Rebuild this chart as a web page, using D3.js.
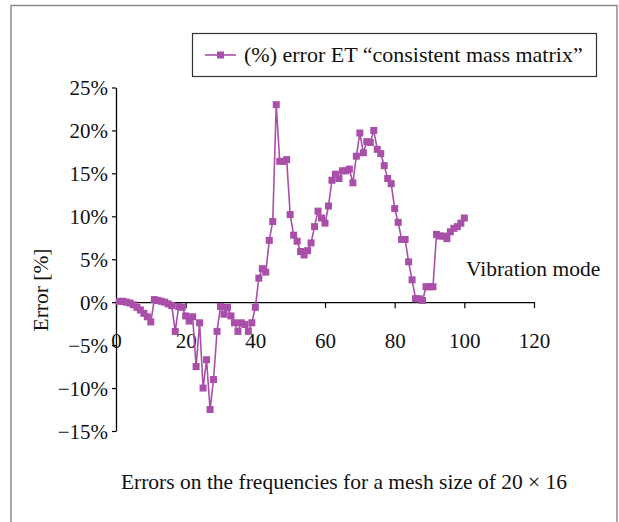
<!DOCTYPE html>
<html>
<head>
<meta charset="utf-8">
<script src="https://cdn.jsdelivr.net/npm/d3@7"></script>
<style>
  html, body { margin: 0; padding: 0; background: #fff; }
  svg { display: block; font-family: "Liberation Serif", "Times New Roman", serif; }
</style>
</head>
<body>
<div id="chart"></div>
<script>
// Errors (%) per vibration mode 1..100
const MODES = d3.range(1, 101);
const ERRORS = [
  0.1, 0.1, 0.0, -0.1, -0.3, -0.6, -0.9, -1.3, -1.7, -2.3,
  0.3, 0.2, 0.1, 0.0, -0.2, -0.4, -3.4, -0.5, -0.6, -1.6,
  -2.2, -1.7, -7.5, -2.4, -10.0, -6.7, -12.5, -9.0, -3.4, -0.5,
  -1.4, -0.6, -1.6, -2.4, -3.4, -2.4, -2.6, -3.4, -2.4, -0.6,
  2.8, 3.9, 3.5, 7.2, 9.4, 23.0, 16.4, 16.4, 16.6, 10.2,
  7.8, 7.1, 5.9, 5.5, 6.0, 6.9, 8.8, 10.6, 9.8, 9.2,
  11.2, 14.2, 14.9, 14.4, 15.3, 15.3, 15.5, 13.9, 17.0, 19.7,
  17.4, 18.7, 18.6, 20.0, 17.8, 17.3, 15.9, 14.4, 13.8, 10.9,
  9.3, 7.3, 7.3, 4.7, 2.6, 0.4, 0.4, 0.2, 1.8, 1.8,
  1.8, 7.9, 7.7, 7.7, 7.4, 8.2, 8.6, 8.8, 9.2, 9.8
];
const X_TICKS = [0, 20, 40, 60, 80, 100, 120];
const Y_TICKS = [-15, -10, -5, 0, 5, 10, 15, 20, 25];

const SERIES_LABEL = "(%) error ET \u201cconsistent mass matrix\u201d";
const X_LABEL = "Vibration mode";
const Y_LABEL = "Error [%]";
const CAPTION = "Errors on the frequencies for a mesh size of 20 \u00d7 16";

const W = 619, H = 522;
const COLOR = "#a94fa9";
const TEXT_SIZE = 21.5;
const TICK_SIZE = 21;

const svg = d3.select("#chart").append("svg")
  .attr("width", W)
  .attr("height", H);

// outer frame (bottom edge is cut off in the reference)
svg.append("path")
  .attr("d", `M11,${H} V5.5 H617 V${H}`)
  .attr("fill", "none")
  .attr("stroke", "#8a8a8a")
  .attr("stroke-width", 1.5);

const x = d3.scaleLinear().domain([0, 120]).range([116, 534]);
const y = d3.scaleLinear().domain([-15, 25]).range([431, 87.5]);

const fmtPct = d => (d < 0 ? "\u2212" + Math.abs(d) : d) + "%";

// y axis
const yAxis = svg.append("g")
  .attr("transform", `translate(${x(0)},0)`)
  .call(d3.axisLeft(y).tickValues(Y_TICKS).tickFormat(fmtPct).tickSize(4).tickSizeOuter(0).tickPadding(4));
yAxis.select(".domain").attr("stroke", "#000").attr("stroke-width", 1.3);
yAxis.selectAll(".tick line").attr("stroke", "#000").attr("stroke-width", 1.2);
yAxis.selectAll("text")
  .attr("font-family", "Liberation Serif")
  .attr("font-size", TICK_SIZE)
  .attr("fill", "#111")
  .attr("dy", "0.34em");

// x axis through 0%
const xAxis = svg.append("g")
  .attr("transform", `translate(0,${y(0)})`)
  .call(d3.axisBottom(x).tickValues(X_TICKS).tickSize(6).tickSizeOuter(0).tickPadding(40));
xAxis.select(".domain").attr("stroke", "#000").attr("stroke-width", 1.3);
xAxis.selectAll(".tick line").attr("stroke", "#000").attr("stroke-width", 1.2);
xAxis.selectAll("text")
  .attr("font-family", "Liberation Serif")
  .attr("font-size", TICK_SIZE)
  .attr("fill", "#111")
  .attr("dy", "0em");

// series
const pts = MODES.map((m, i) => ({ m, v: ERRORS[i] }));
const line = d3.line().x(d => x(d.m)).y(d => y(d.v));

svg.append("path")
  .datum(pts)
  .attr("d", line)
  .attr("fill", "none")
  .attr("stroke", COLOR)
  .attr("stroke-width", 1.6);

const sq = 7;
svg.append("g").selectAll("rect")
  .data(pts)
  .join("rect")
  .attr("x", d => x(d.m) - sq / 2)
  .attr("y", d => y(d.v) - sq / 2)
  .attr("width", sq)
  .attr("height", sq)
  .attr("fill", COLOR);

// axis titles
svg.append("text")
  .attr("transform", "translate(48,290) rotate(-90)")
  .attr("text-anchor", "middle")
  .attr("font-size", TEXT_SIZE)
  .attr("fill", "#111")
  .text(Y_LABEL);

svg.append("text")
  .attr("x", 466)
  .attr("y", 276)
  .attr("font-size", TEXT_SIZE)
  .attr("fill", "#111")
  .text(X_LABEL);

svg.append("text")
  .attr("x", 344)
  .attr("y", 489)
  .attr("text-anchor", "middle")
  .attr("font-size", TEXT_SIZE)
  .attr("fill", "#111")
  .text(CAPTION);

// legend
const lg = svg.append("g");
lg.append("rect")
  .attr("x", 192.5).attr("y", 33.5)
  .attr("width", 404).attr("height", 43)
  .attr("fill", "#fff")
  .attr("stroke", "#333")
  .attr("stroke-width", 1.2);
lg.append("line")
  .attr("x1", 205).attr("x2", 236)
  .attr("y1", 55).attr("y2", 55)
  .attr("stroke", COLOR).attr("stroke-width", 1.6);
lg.append("rect")
  .attr("x", 220.5 - sq / 2).attr("y", 55 - sq / 2)
  .attr("width", sq).attr("height", sq)
  .attr("fill", COLOR);
lg.append("text")
  .attr("x", 244)
  .attr("y", 62)
  .attr("font-size", 22)
  .attr("fill", "#111")
  .text(SERIES_LABEL);
</script>
</body>
</html>
